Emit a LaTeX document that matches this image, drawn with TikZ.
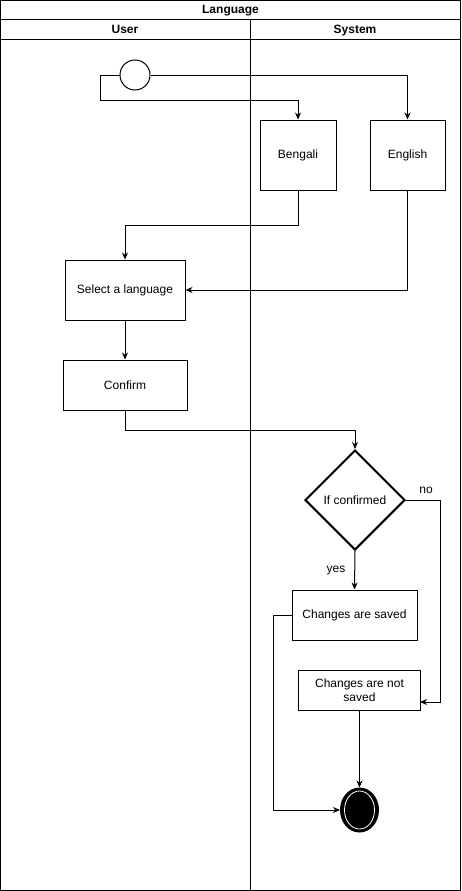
\documentclass[tikz,border=0pt]{standalone}
\usepackage{fontspec}
\setmainfont{Liberation Sans}
\usetikzlibrary{shapes.geometric,arrows.meta}
\begin{document}
\begin{tikzpicture}[x=1pt,y=-1pt, line width=1pt,
  font=\fontsize{12}{14}\selectfont,
  box/.style={draw, rectangle, inner sep=0pt, align=center},
  arr/.style={-{Stealth[length=7pt,width=6pt]}},
  lbl/.style={text height=9pt, text depth=3pt, inner sep=0pt},
  hdr/.style={lbl, font=\fontsize{12}{14}\selectfont\bfseries}]
\useasboundingbox (0,0) rectangle (461,891);
% frame
\draw (0.5,0.5) rectangle (460.5,890.5);
\draw (0.5,20) -- (460.5,20);
\draw (0.5,40) -- (460.5,40);
\draw (250,20) -- (250,890.5);
\node[hdr] (title) at (230.5,10.5) {Language};
\node[hdr] (user) at (125,30.5) {User};
\node[hdr] (sys) at (355,30.5) {System};
% nodes
\node[circle, draw, minimum size=30, inner sep=0pt] (start) at (135,75) {};
\node[box, minimum width=76, minimum height=70] (bengali) at (298,155) {Bengali};
\node[box, minimum width=75, minimum height=70] (english) at (407.5,155) {English};
\node[box, minimum width=120, minimum height=60] (select) at (125,290) {Select a language};
\node[box, minimum width=124, minimum height=50] (confirm) at (125,385) {Confirm};
\node[diamond, draw, line width=2pt, aspect=1, minimum size=100, inner sep=0pt] (dec) at (355,500) {If confirmed};
\node[box, minimum width=125, minimum height=50] (saved) at (354.5,615) {Changes are saved};
\node[box, minimum width=122, minimum height=40] (notsaved) at (359.5,690) {Changes are not\\saved};
\node[ellipse, draw, fill=black, line width=2pt, minimum width=37, minimum height=43, inner sep=0pt] (end) at (359.5,810) {};
\draw[white, line width=0.8pt] (end.center) ellipse (15 and 19);
\node[lbl] (no) at (426,490) {no};
\node[lbl] (yes) at (336,569) {yes};
\coordinate (nsin) at (420,702);
% edges
\draw[arr] (start.west) -- (100,75) -- (100,100) -| (bengali.north);
\draw[arr] (start.east) -| (english.north);
\draw[arr] (bengali.south) -- (298,225) -| (select.north);
\draw[arr] (english.south) |- (select.east);
\draw[arr] (select) -- (confirm);
\draw[arr] (confirm.south) -- (125,430) -| (dec.north);
\draw[arr] (dec.east) -| (440,702) -- (nsin);
\draw[arr] (dec.south) -- (saved.north);
\draw[arr] (notsaved.south) -- (end.north);
\draw[arr] (saved.west) -- (273,615) |- (end.west);
\end{tikzpicture}
\end{document}
